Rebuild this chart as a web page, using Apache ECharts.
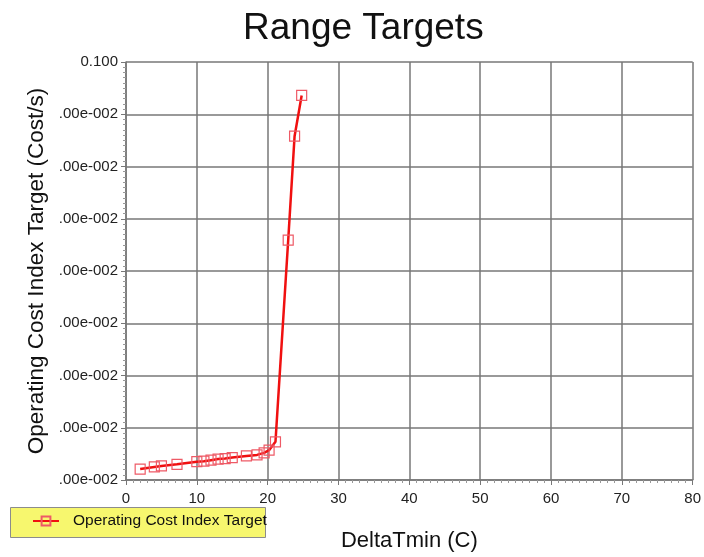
<!DOCTYPE html>
<html>
<head>
<meta charset="utf-8">
<script src="https://cdn.jsdelivr.net/npm/echarts@6/dist/echarts.min.js"></script>
<style>
  html, body { margin: 0; padding: 0; background: #fff; }
  #chart { width: 704px; height: 557px; }
</style>
</head>
<body>
<div id="chart"></div>
<script>
// DeltaTmin (C) values
const deltaTmin = [2, 4, 5, 7.2, 10, 11, 12, 13, 14, 15, 17, 18.5, 19.5, 20.2, 21.1, 22.9, 23.8, 24.8];
// Operating cost index target (Cost/s)
const costIndex = [0.0221, 0.0225, 0.0227, 0.0230, 0.0235, 0.0236, 0.0238, 0.0240, 0.0241, 0.0243,
                   0.0246, 0.0248, 0.0252, 0.0257, 0.0273, 0.0659, 0.0858, 0.0936];
// Y tick labels as printed, bottom to top
const yTickLabels = ['.00e-002', '.00e-002', '.00e-002', '.00e-002', '.00e-002', '.00e-002', '.00e-002', '.00e-002', '0.100'];
const seriesName = 'Operating Cost Index Target';

const chart = echarts.init(document.getElementById('chart'), null, { renderer: 'canvas' });
const font = 'Liberation Sans, Arial, sans-serif';
const gridColor = '#777777';

chart.setOption({
  animation: false,
  backgroundColor: '#ffffff',
  title: {
    text: 'Range Targets',
    left: 238,
    top: 5,
    textStyle: { fontFamily: font, fontSize: 37, fontWeight: 'normal', color: '#111' }
  },
  // yellow legend panel behind the legend entry
  graphic: [{
    type: 'rect',
    left: 10,
    top: 507,
    z: 0,
    shape: { width: 255, height: 30 },
    style: { fill: '#f7f76e', stroke: '#8c8c8c', lineWidth: 1 }
  }],
  legend: {
    data: [seriesName],
    left: 32,
    top: 513,
    z: 5,
    padding: 0,
    itemWidth: 26,
    itemHeight: 11,
    textStyle: { fontFamily: font, fontSize: 15.5, color: '#111', padding: [0, 0, 0, 9] }
  },
  grid: { left: 126, right: 9, top: 62, bottom: 77 },
  xAxis: {
    type: 'value',
    min: 0,
    max: 80,
    interval: 10,
    name: 'DeltaTmin (C)',
    nameLocation: 'middle',
    nameGap: 50,
    nameTextStyle: { fontFamily: font, fontSize: 22, color: '#111' },
    axisLine: { show: true, lineStyle: { color: gridColor, width: 1.5 } },
    axisTick: { show: true, length: 5, lineStyle: { color: gridColor } },
    minorTick: { show: true, splitNumber: 10, length: 3, lineStyle: { color: '#999' } },
    axisLabel: { fontFamily: font, fontSize: 15, color: '#222', margin: 11 },
    splitLine: { show: true, lineStyle: { color: gridColor, width: 1.5 } }
  },
  yAxis: {
    type: 'value',
    min: 0.02,
    max: 0.1,
    interval: 0.01,
    name: 'Operating Cost Index Target (Cost/s)',
    nameLocation: 'middle',
    nameGap: 75,
    nameTextStyle: { fontFamily: font, fontSize: 22.5, color: '#111' },
    axisLine: { show: true, lineStyle: { color: gridColor, width: 1.5 } },
    axisTick: { show: true, length: 5, lineStyle: { color: gridColor } },
    minorTick: { show: true, splitNumber: 10, length: 3, lineStyle: { color: '#999' } },
    axisLabel: {
      fontFamily: font, fontSize: 15, color: '#222', margin: 8,
      formatter: function (v) {
        const i = Math.round((v - 0.02) / 0.01);
        return yTickLabels[i] !== undefined ? yTickLabels[i] : '';
      }
    },
    splitLine: { show: true, lineStyle: { color: gridColor, width: 1.5 } }
  },
  series: [{
    name: seriesName,
    type: 'line',
    data: deltaTmin.map((x, i) => [x, costIndex[i]]),
    symbol: 'rect',
    symbolSize: 10,
    showAllSymbol: true,
    lineStyle: { color: '#f01010', width: 2.5 },
    itemStyle: { color: 'rgba(255,255,255,0)', borderColor: '#ee5a66', borderWidth: 1.2 }
  }]
});
</script>
</body>
</html>
